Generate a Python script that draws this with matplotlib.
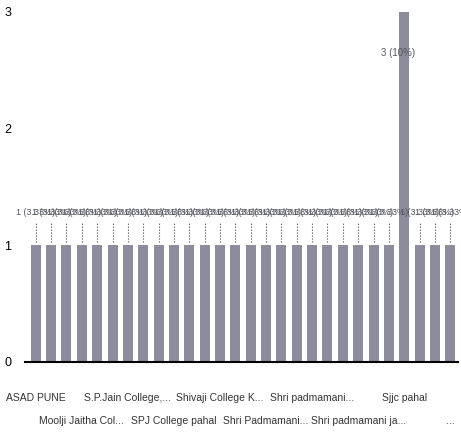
import numpy as np
import matplotlib
matplotlib.use('Agg')
import matplotlib.pyplot as plt

# ---- data ----
values = [1] * 28
values[24] = 3
total = sum(values)

# only every third category is labelled on the x axis
tick_positions = [0, 3, 6, 9, 12, 15, 18, 21, 24, 27]
tick_labels = ['ASAD PUNE', 'Moolji Jaitha Col...', 'S.P.Jain College,...',
               'SPJ College pahal', 'Shivaji College K...', 'Shri Padmamani...',
               'Shri padmamani...', 'Shri padmamani ja...', 'Sjjc pahal', '...']

plt.rcParams['font.family'] = ['Liberation Sans Narrow', 'Liberation Sans', 'DejaVu Sans']

fig = plt.figure(figsize=(4.61, 4.37), dpi=100)
ax = fig.add_axes([25/461, 1 - 362/437, 433/461, 350/437])

x = np.arange(len(values))
bar_color = '#8c8c9c'
ax.bar(x, values, width=0.65, color=bar_color, edgecolor='none')

# data labels with dotted leaders (they overlap in the original too)
for i, v in enumerate(values):
    pct = 100.0 * v / total
    txt = '%d (%.2f%%)' % (v, pct) if v == 1 else '%d (%d%%)' % (v, round(pct))
    if v == 1:
        ax.text(i, 1.28, txt, ha='center', va='center', fontsize=6.5, color='#555560')
        ax.plot([i, i], [1.03, 1.2], ls=':', lw=0.8, color='#444444')
    else:
        ax.text(i - 0.4, v - 0.35, txt, ha='center', va='center', fontsize=7, color='#555560')

ax.set_xlim(-0.7, 27.5)
ax.set_ylim(0, 3)
ax.set_yticks([0, 1, 2, 3])
ax.set_yticklabels(['0', '1', '2', '3'], fontsize=9)
ax.tick_params(axis='y', length=0, pad=10)

ax.set_xticks(tick_positions)
ax.set_xticklabels([lab if k % 2 == 0 else '\n\n' + lab for k, lab in enumerate(tick_labels)],
                   fontsize=7.5, color='#333333', linespacing=1.2)
ax.tick_params(axis='x', length=0, pad=22)

for s in ['top', 'right', 'left']:
    ax.spines[s].set_visible(False)
ax.spines['bottom'].set_linewidth(1.5)

fig.savefig('out.png', dpi=100)
